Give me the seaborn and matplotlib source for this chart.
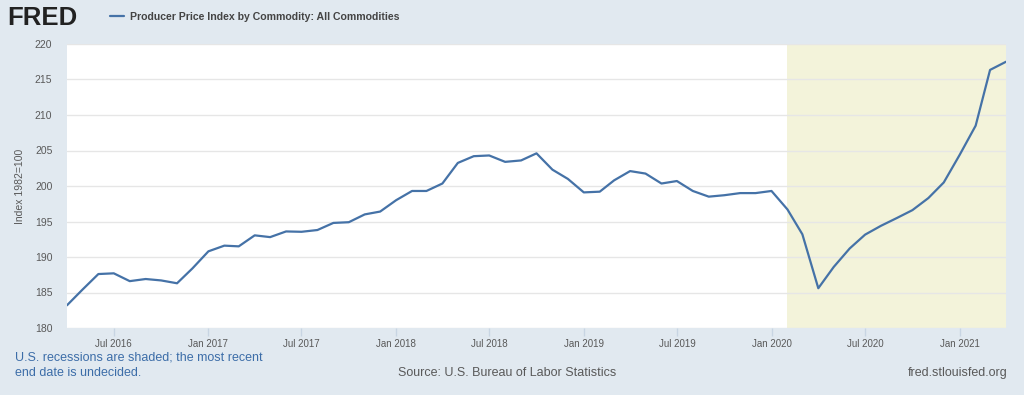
import numpy as np
import pandas as pd
import matplotlib
matplotlib.use("Agg")
import matplotlib.pyplot as plt
import matplotlib.dates as mdates
from matplotlib.lines import Line2D
import seaborn as sns

# ---- data ----
start_month = "2016-04-01"
ppi_values = [
    183.2, 185.4, 187.6, 187.7, 186.6, 186.9, 186.7, 186.3, 188.4,
    190.8, 191.6, 191.5, 193.05, 192.8, 193.6, 193.55, 193.8, 194.8, 194.9, 196.0, 196.4,
    198.0, 199.3, 199.3, 200.35, 203.25, 204.2, 204.3, 203.4, 203.6, 204.6, 202.3, 201.0,
    199.1, 199.2, 200.8, 202.1, 201.75, 200.35, 200.7, 199.3, 198.5, 198.7, 199.0, 199.0,
    199.3, 196.7, 193.2, 185.6, 188.6, 191.2, 193.15, 194.4, 195.5, 196.6, 198.3, 200.5,
    204.4, 208.5, 216.35, 217.5,
]
recession_start = "2020-02-01"
recession_end = "2021-04-01"
y_ticks = [180, 185, 190, 195, 200, 205, 210, 215, 220]
series_title = "Producer Price Index by Commodity: All Commodities"
y_label = "Index 1982=100"

dates = pd.date_range(start_month, periods=len(ppi_values), freq="MS")
df = pd.DataFrame({"date": dates, "value": ppi_values})

# ---- style ----
BG = "#E1E9F0"
LINE = "#4572A7"
GRID = "#E6E6E6"
TXT = "#595959"
sns.set_theme(style="white")
plt.rcParams["font.family"] = ["Liberation Sans", "DejaVu Sans"]

fig = plt.figure(figsize=(10.24, 3.95), dpi=100, facecolor=BG)
ax = fig.add_axes([67 / 1024, 1 - 328 / 395, 939 / 1024, 284 / 395])
ax.set_facecolor("white")

ax.axvspan(pd.Timestamp(recession_start), pd.Timestamp(recession_end),
           color="#F3F3DA", lw=0, zorder=0)
sns.lineplot(data=df, x="date", y="value", ax=ax, color=LINE, lw=1.6, zorder=3)

ax.set_xlim(dates[0], dates[-1])
ax.set_ylim(y_ticks[0], y_ticks[-1])
ax.set_yticks(y_ticks)
ax.yaxis.grid(True, color=GRID, lw=1)
ax.xaxis.grid(False)
ax.set_axisbelow(True)

ax.xaxis.set_major_locator(mdates.MonthLocator(bymonth=[1, 7]))
ax.xaxis.set_major_formatter(mdates.DateFormatter("%b %Y"))
ax.tick_params(axis="x", length=6, width=1, color="#C8D5E3", labelsize=7,
               labelcolor=TXT, pad=2, bottom=True)
ax.tick_params(axis="y", length=0, labelsize=7.5, labelcolor=TXT, pad=10.5)
for s in ax.spines.values():
    s.set_visible(False)

ax.set_xlabel("")
ax.set_ylabel(y_label, fontsize=7.5, color=TXT, labelpad=7)

# header
fig.text(7 / 1024, 1 - 18 / 395, "FRED", fontsize=18.5, fontweight="bold",
         color="#222222", va="center", ha="left")
fig.legend(handles=[Line2D([], [], color=LINE, lw=1.6)], labels=[series_title],
           loc="center left", bbox_to_anchor=(100 / 1024, 1 - 17 / 395),
           frameon=False, handlelength=1.4, handletextpad=0.5,
           labelcolor="#444444", prop={"weight": "bold", "size": 7.6})

# footer
fig.text(15 / 1024, 1 - 357 / 395, "U.S. recessions are shaded; the most recent",
         fontsize=9, color="#3C6DA8", va="center")
fig.text(15 / 1024, 1 - 373 / 395, "end date is undecided.",
         fontsize=9, color="#3C6DA8", va="center")
fig.text(507 / 1024, 1 - 373 / 395, "Source: U.S. Bureau of Labor Statistics",
         fontsize=9, color=TXT, va="center", ha="center")
fig.text(1008 / 1024, 1 - 373 / 395, "fred.stlouisfed.org",
         fontsize=9, color=TXT, va="center", ha="right")

fig.savefig("out.png", dpi=100, facecolor=BG)
